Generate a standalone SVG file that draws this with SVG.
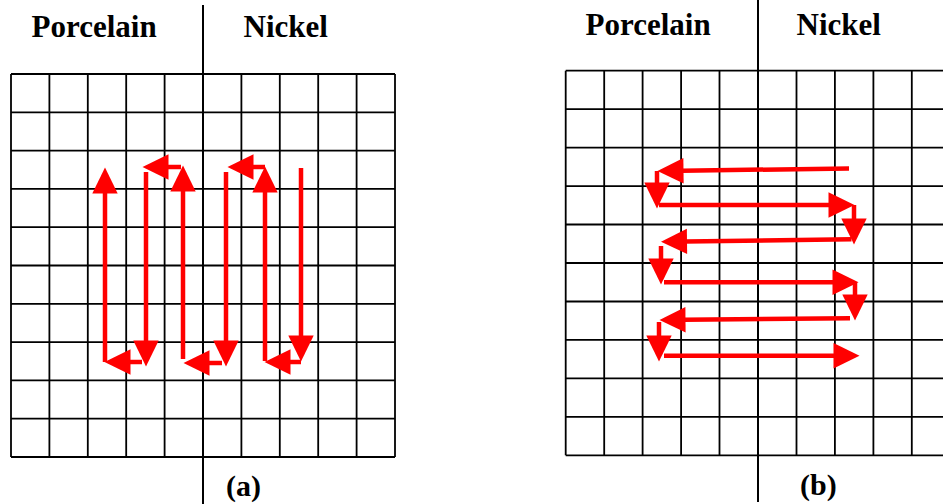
<svg xmlns="http://www.w3.org/2000/svg" xmlns:xlink="http://www.w3.org/1999/xlink" width="943" height="504" viewBox="0 0 943 504">
<style>
.grid{fill:none;stroke:#000;stroke-width:1.8}
.div{stroke:#000;stroke-width:2}
.lbl{font-family:"Liberation Serif","Times New Roman",serif;font-weight:bold;font-size:31px;fill:#000}
.cap{font-family:"Liberation Serif","Times New Roman",serif;font-weight:bold;font-size:30px;fill:#000}
.arr{stroke:#ff0000;stroke-width:4.5;fill:none}
.hd{fill:#ff0000}
</style>
<defs>
<path id="head" d="M-0.5,-12.7 L25.5,0 L-0.5,12.7 z"/>
</defs>
<rect width="943" height="504" fill="#fff"/>
<g id="panel-a">
<path id="grid-a" class="grid" d="M11,74V457M49.4,74V457M87.8,74V457M126.2,74V457M164.6,74V457M241.4,74V457M279.8,74V457M318.2,74V457M356.6,74V457M395,74V457M11,74H395M11,112.3H395M11,150.6H395M11,188.9H395M11,227.2H395M11,265.5H395M11,303.8H395M11,342.1H395M11,380.4H395M11,418.7H395M11,457H395"/>
<line id="divider-a" class="div" x1="203" y1="5" x2="203" y2="504"/>
<text id="porcelain-a" class="lbl" x="31.5" y="37">Porcelain</text>
<text id="nickel-a" class="lbl" x="243.5" y="37">Nickel</text>
<text id="cap-a" class="cap" x="226" y="496">(a)</text>
</g>
<g id="panel-b">
<path id="grid-b" class="grid" d="M565.7,70.7V455.3M604.2,70.7V455.3M642.6,70.7V455.3M681.1,70.7V455.3M719.5,70.7V455.3M796.5,70.7V455.3M834.9,70.7V455.3M873.4,70.7V455.3M911.8,70.7V455.3M950.3,70.7V455.3M565.7,70.7H950.3M565.7,109.2H950.3M565.7,147.6H950.3M565.7,186.1H950.3M565.7,224.5H950.3M565.7,263H950.3M565.7,301.5H950.3M565.7,339.9H950.3M565.7,378.4H950.3M565.7,416.8H950.3M565.7,455.3H950.3"/>
<line id="divider-b" class="div" x1="758" y1="0" x2="758" y2="502"/>
<text id="porcelain-b" class="lbl" x="585.5" y="35">Porcelain</text>
<text id="nickel-b" class="lbl" x="796.5" y="35">Nickel</text>
<text id="cap-b" class="cap" x="800" y="495">(b)</text>
</g>
<g id="connectors">
<g id="path-a">
<line class="arr" x1="301" y1="168" x2="301" y2="337"/>
<use xlink:href="#head" class="hd" transform="translate(301,336) rotate(90)"/>
<line class="arr" x1="301" y1="362" x2="289" y2="362"/>
<use xlink:href="#head" class="hd" transform="translate(290,362) rotate(180)"/>
<line class="arr" x1="265" y1="361" x2="265" y2="191"/>
<use xlink:href="#head" class="hd" transform="translate(265,192) rotate(-90)"/>
<line class="arr" x1="265" y1="167" x2="252" y2="167"/>
<use xlink:href="#head" class="hd" transform="translate(253,167) rotate(180)"/>
<line class="arr" x1="226" y1="172" x2="226" y2="342"/>
<use xlink:href="#head" class="hd" transform="translate(226,341) rotate(90)"/>
<line class="arr" x1="222" y1="363" x2="208" y2="363"/>
<use xlink:href="#head" class="hd" transform="translate(209,363) rotate(180)"/>
<line class="arr" x1="183" y1="359" x2="183" y2="190"/>
<use xlink:href="#head" class="hd" transform="translate(183,191) rotate(-90)"/>
<line class="arr" x1="181" y1="167" x2="167" y2="167"/>
<use xlink:href="#head" class="hd" transform="translate(168,167) rotate(180)"/>
<line class="arr" x1="146" y1="172" x2="146" y2="342"/>
<use xlink:href="#head" class="hd" transform="translate(146,341) rotate(90)"/>
<line class="arr" x1="142" y1="362" x2="129" y2="362"/>
<use xlink:href="#head" class="hd" transform="translate(130,362) rotate(180)"/>
<line class="arr" x1="105" y1="362" x2="105" y2="192"/>
<use xlink:href="#head" class="hd" transform="translate(105,193) rotate(-90)"/>
</g>
<g id="path-b">
<line class="arr" x1="849" y1="168.5" x2="682" y2="170.7"/>
<use xlink:href="#head" class="hd" transform="translate(683,170.7) rotate(179.25)"/>
<line class="arr" x1="657" y1="171" x2="657" y2="184"/>
<use xlink:href="#head" class="hd" transform="translate(657,183) rotate(90)"/>
<line class="arr" x1="659" y1="205" x2="830" y2="205"/>
<use xlink:href="#head" class="hd" transform="translate(829,205) rotate(0)"/>
<line class="arr" x1="854" y1="205" x2="854" y2="220"/>
<use xlink:href="#head" class="hd" transform="translate(854,219) rotate(90)"/>
<line class="arr" x1="851.5" y1="239.3" x2="685.5" y2="241.4"/>
<use xlink:href="#head" class="hd" transform="translate(686.5,241.4) rotate(179.27)"/>
<line class="arr" x1="661" y1="246" x2="661" y2="260"/>
<use xlink:href="#head" class="hd" transform="translate(661,259) rotate(90)"/>
<line class="arr" x1="664" y1="282.3" x2="834" y2="282.3"/>
<use xlink:href="#head" class="hd" transform="translate(833,282.3) rotate(0)"/>
<line class="arr" x1="855" y1="283" x2="855" y2="296"/>
<use xlink:href="#head" class="hd" transform="translate(855,295) rotate(90)"/>
<line class="arr" x1="850" y1="318.3" x2="684" y2="319.8"/>
<use xlink:href="#head" class="hd" transform="translate(685,319.8) rotate(179.48)"/>
<line class="arr" x1="659" y1="322" x2="659" y2="337"/>
<use xlink:href="#head" class="hd" transform="translate(659,336) rotate(90)"/>
<line class="arr" x1="664" y1="355.7" x2="835" y2="355.7"/>
<use xlink:href="#head" class="hd" transform="translate(834,355.7) rotate(0)"/>
</g>
</g>
</svg>
